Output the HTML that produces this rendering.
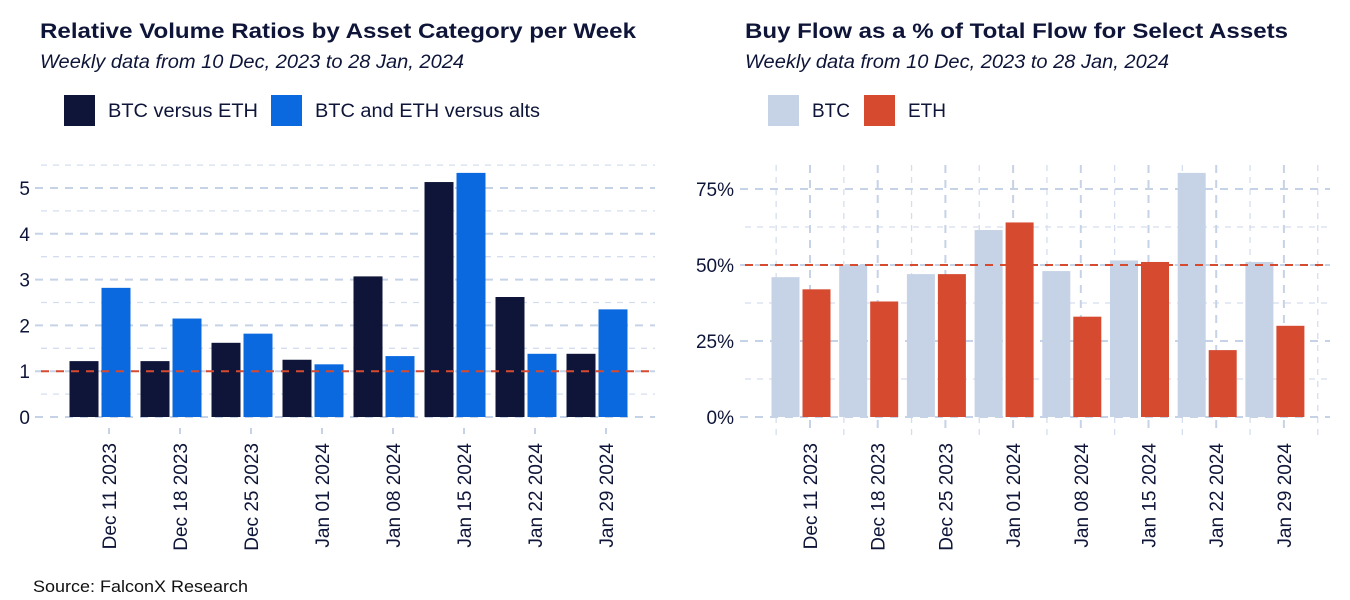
<!DOCTYPE html>
<html><head><meta charset="utf-8"><style>
body{margin:0;background:#fff;font-family:"Liberation Sans",sans-serif;}
svg{display:block}
</style></head><body>
<svg id="c" width="1350" height="600" xmlns="http://www.w3.org/2000/svg">
<text x="40" y="38" font-size="21" font-weight="bold" fill="#0e1538" textLength="596" lengthAdjust="spacingAndGlyphs">Relative Volume Ratios by Asset Category per Week</text>
<text x="40" y="68" font-size="19" font-style="italic" fill="#0e1538" textLength="424" lengthAdjust="spacingAndGlyphs">Weekly data from 10 Dec, 2023 to 28 Jan, 2024</text>
<rect x="64" y="95" width="31" height="31" fill="#0e1538"/>
<text x="108" y="117" font-size="19" fill="#0e1538" textLength="150" lengthAdjust="spacingAndGlyphs">BTC versus ETH</text>
<rect x="271" y="95" width="31" height="31" fill="#0b69df"/>
<text x="315" y="117" font-size="19" fill="#0e1538" textLength="225" lengthAdjust="spacingAndGlyphs">BTC and ETH versus alts</text>
<text x="745" y="38" font-size="21" font-weight="bold" fill="#0e1538" textLength="543" lengthAdjust="spacingAndGlyphs">Buy Flow as a % of Total Flow for Select Assets</text>
<text x="745" y="68" font-size="19" font-style="italic" fill="#0e1538" textLength="424" lengthAdjust="spacingAndGlyphs">Weekly data from 10 Dec, 2023 to 28 Jan, 2024</text>
<rect x="768" y="95" width="31" height="31" fill="#c6d3e6"/>
<text x="812" y="117" font-size="19" fill="#0e1538">BTC</text>
<rect x="864" y="95" width="31" height="31" fill="#d64a30"/>
<text x="908" y="117" font-size="19" fill="#0e1538">ETH</text>
<text x="33" y="592" font-size="17" fill="#111" textLength="215" lengthAdjust="spacingAndGlyphs">Source: FalconX Research</text>
<g id="L"></g><g id="R"></g>
</svg>
<script>
const categories = ["Dec 11 2023","Dec 18 2023","Dec 25 2023","Jan 01 2024","Jan 08 2024","Jan 15 2024","Jan 22 2024","Jan 29 2024"];
const btcVsEth = [1.22,1.22,1.62,1.25,3.07,5.13,2.62,1.38];
const btcEthVsAlts = [2.82,2.15,1.82,1.15,1.33,5.33,1.38,2.35];
const leftTicks = [0,1,2,3,4,5];
const btcBuy = [46,50,47,61.5,48,51.5,80.3,51];
const ethBuy = [42,38,47,64,33,51,22,30];
const rightTicks = [0,25,50,75];

const NS="http://www.w3.org/2000/svg";
function mk(parent,tag,attrs,text){const e=document.createElementNS(NS,tag);for(const k in attrs)e.setAttribute(k,attrs[k]);if(text!==undefined)e.textContent=text;parent.appendChild(e);return e;}
const grid="#c6d3e6", ink="#0e1538";

// LEFT
const L=document.getElementById('L');
const ly=v=>417-v*45.8;
const lx=i=>109+i*71;
for(let v=0.5;v<=5.5;v+=1){const g=mk(L,'line',{x1:41,x2:655,y1:ly(v),y2:ly(v),stroke:"#d5deee","stroke-width":1.3,"stroke-dasharray":"6 6"});}
leftTicks.forEach(v=>{const g=mk(L,'line',{x1:35,x2:655,y1:ly(v),y2:ly(v),stroke:grid,"stroke-width":2,"stroke-dasharray":"8 7"});
const t=mk(L,'text',{x:30,y:ly(v)+7,"font-size":19,fill:ink,"text-anchor":"end"},String(v));});
categories.forEach((c,i)=>{
 const cx=lx(i)-9.5;
 const b1=mk(L,'rect',{x:cx-30,y:ly(btcVsEth[i]),width:29,height:ly(0)-ly(btcVsEth[i]),fill:"#0e1538"});
 const b2=mk(L,'rect',{x:cx+2,y:ly(btcEthVsAlts[i]),width:29,height:ly(0)-ly(btcEthVsAlts[i]),fill:"#0b69df"});
 const tk=mk(L,'line',{x1:lx(i),x2:lx(i),y1:428,y2:434,stroke:grid,"stroke-width":2});
 const t=mk(L,'text',{transform:`translate(${lx(i)+7},443) rotate(-90)`,"font-size":19,fill:ink,"text-anchor":"end"},c);
});
const r1=mk(L,'line',{x1:41,x2:655,y1:ly(1),y2:ly(1),stroke:"#d64a30","stroke-width":2,"stroke-dasharray":"8 7"});

// RIGHT
const R=document.getElementById('R');
const ry=v=>417-v*3.04;
const rx=i=>810+i*67.7;
for(let v=12.5;v<=62.5;v+=25){const g=mk(R,'line',{x1:745,x2:1330,y1:ry(v),y2:ry(v),stroke:"#d5deee","stroke-width":1.3,"stroke-dasharray":"6 6"});}
for(let i=-0.5;i<=7.5;i+=1){const g=mk(R,'line',{x1:rx(i),x2:rx(i),y1:165,y2:435,stroke:"#d5deee","stroke-width":1.3,"stroke-dasharray":"6 6"});}
rightTicks.forEach(v=>{const g=mk(R,'line',{x1:740,x2:1330,y1:ry(v),y2:ry(v),stroke:grid,"stroke-width":2,"stroke-dasharray":"8 7"});
const t=mk(R,'text',{x:734,y:ry(v)+7,"font-size":19,fill:ink,"text-anchor":"end"},v+"%");});
categories.forEach((c,i)=>{
 const g=mk(R,'line',{x1:rx(i),x2:rx(i),y1:165,y2:435,stroke:grid,"stroke-width":2,"stroke-dasharray":"8 7"});
 const cx=rx(i)-9.5;
 const b1=mk(R,'rect',{x:cx-29,y:ry(btcBuy[i]),width:28,height:ry(0)-ry(btcBuy[i]),fill:"#c6d3e6"});
 const b2=mk(R,'rect',{x:cx+2,y:ry(ethBuy[i]),width:28,height:ry(0)-ry(ethBuy[i]),fill:"#d64a30"});
 const t=mk(R,'text',{transform:`translate(${rx(i)+7},443) rotate(-90)`,"font-size":19,fill:ink,"text-anchor":"end"},c);
});
const r2=mk(R,'line',{x1:745,x2:1330,y1:ry(50),y2:ry(50),stroke:"#d64a30","stroke-width":2,"stroke-dasharray":"8 7"});
</script>
</body></html>
